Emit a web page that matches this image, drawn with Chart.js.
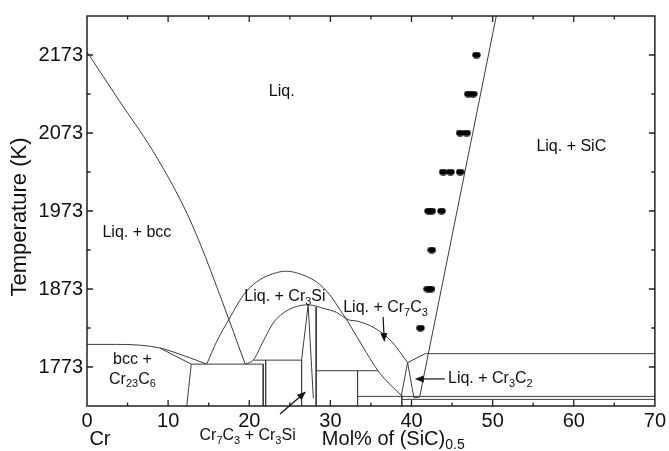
<!DOCTYPE html>
<html>
<head>
<meta charset="utf-8">
<script src="https://cdn.jsdelivr.net/npm/chart.js@4.4.0/dist/chart.umd.min.js"></script>
<style>
  html, body { margin: 0; padding: 0; background: #fff; }
  canvas { display: block; }
</style>
</head>
<body>
<canvas id="phase" width="669" height="451"></canvas>
<script>
// axes
const xRange = [0, 70];
const yRange = [1723, 2223];
const xTicks = [0, 10, 20, 30, 40, 50, 60, 70];
const yTicks = [1773, 1873, 1973, 2073, 2173];

// phase boundaries, points are [mol% (SiC)0.5, T (K)]
const bccLiquidus = [[0, 2177], [4.0, 2114], [8.0, 2052], [12.0, 1977], [13.95, 1931], [16.6, 1859], [19.5, 1776.7]];
const upperDome = [[14.76, 1776.7], [16.0, 1806], [17.6, 1836], [19.26, 1865], [20.9, 1882], [22.95, 1892.7], [24.6, 1895.8], [26.6, 1891], [28.3, 1882], [29.9, 1866], [30.9, 1851], [32.1, 1832], [34.44, 1791.4], [35.87, 1768.2], [36.9, 1755.5], [38.75, 1736.5]];
const lowerDome = [[19.5, 1776.7], [20.5, 1782], [21.72, 1806], [22.95, 1829.4], [24.18, 1842], [25.83, 1850.6], [27.26, 1852.7], [29.2, 1848], [30.75, 1843], [32.18, 1833.7], [33.4, 1831.6], [35.46, 1823], [37.52, 1806], [39.52, 1778.7]];
const bccSolvus = [[0, 1802], [3.5, 1802], [6.56, 1801], [9.0, 1797.4], [10.25, 1793.6], [12.7, 1784.7], [14.76, 1776.7]];
const bccSolvusLow = [[9.0, 1797.4], [10.25, 1790.5], [12.85, 1776.7]];
const cr3siSpike = [[26.45, 1781.8], [27.26, 1852.7], [27.9, 1733]];
const cr3c2Wedge = [[38.75, 1736.5], [39.52, 1778.7], [40.3, 1733.5], [41.0, 1734.4]];
const sicLiquidus = [[41.0, 1734.4], [50.45, 2223]];
const tieLines = [
  [[12.85, 1776.7], [12.3, 1723]],
  [[12.85, 1776.7], [21.72, 1776.7]],
  [[21.72, 1776.7], [21.72, 1723]],
  [[20.5, 1781.8], [26.45, 1781.8]],
  [[22.02, 1781.8], [22.02, 1723]],
  [[26.45, 1781.8], [26.45, 1723]],
  [[28.25, 1850], [28.25, 1723]],
  [[28.25, 1768.2], [35.87, 1768.2]],
  [[33.35, 1768.2], [33.35, 1723]],
  [[33.35, 1735.3], [70, 1735.3]],
  [[38.8, 1736.5], [38.8, 1723]],
  [[38.8, 1731.5], [70, 1731.5]],
  [[39.52, 1778.7], [41.7, 1790.1]],
  [[41.7, 1790.1], [70, 1790.1]]
];

// measured points (black dots)
const dotX = [48.0, 47.0, 47.6, 46.0, 46.8, 43.9, 44.8, 46.0, 42.1, 42.5, 43.7, 42.5, 42.0, 42.4, 41.1];
const dotT = [2173, 2123, 2123, 2073, 2073, 2023, 2023, 2023, 1973, 1973, 1973, 1923, 1873, 1873, 1823];

const font = "'Liberation Sans', Arial, sans-serif";
const lineColor = "#3c3c3c";

// ellipse marker
const dotImg = document.createElement("canvas");
dotImg.width = 9;
dotImg.height = 7;
const dctx = dotImg.getContext("2d");
dctx.fillStyle = "#000";
dctx.beginPath();
dctx.ellipse(4.5, 3.5, 4.2, 3.2, 0, 0, Math.PI * 2);
dctx.fill();

const toXY = pts => pts.map(p => ({ x: p[0], y: p[1] }));
const lineSet = (pts, smooth) => ({
  data: toXY(pts),
  showLine: true,
  borderColor: lineColor,
  borderWidth: 1,
  pointRadius: 0,
  tension: smooth ? 0.4 : 0,
  cubicInterpolationMode: smooth ? "monotone" : "default",
});

const datasets = [
  {
    data: dotX.map((x, i) => ({ x: x, y: dotT[i] })),
    pointStyle: dotImg,
    pointRadius: 4,
    showLine: false,
  },
  lineSet(bccLiquidus, true),
  lineSet(upperDome, true),
  lineSet(lowerDome, true),
  lineSet(bccSolvus, true),
  lineSet(bccSolvusLow, true),
  lineSet(cr3siSpike, false),
  lineSet(cr3c2Wedge, false),
  lineSet(sicLiquidus, false),
];
tieLines.forEach(seg => datasets.push(lineSet(seg, false)));

// text with subscripts: parts = [[text, isSub], ...]
const drawRich = (ctx, parts, x, y, size, align) => {
  const subSize = Math.round(size * 0.7);
  let total = 0;
  parts.forEach(p => {
    ctx.font = `${p[1] ? subSize : size}px ${font}`;
    total += ctx.measureText(p[0]).width;
  });
  let cx = align === "left" ? x : x - total / 2;
  ctx.textAlign = "left";
  ctx.textBaseline = "middle";
  parts.forEach(p => {
    ctx.font = `${p[1] ? subSize : size}px ${font}`;
    ctx.fillText(p[0], cx, p[1] ? y + size * 0.3 : y);
    cx += ctx.measureText(p[0]).width;
  });
};

const drawArrow = (ctx, x1, y1, x2, y2) => {
  const a = Math.atan2(y2 - y1, x2 - x1);
  ctx.beginPath();
  ctx.moveTo(x1, y1);
  ctx.lineTo(x2 - Math.cos(a) * 5, y2 - Math.sin(a) * 5);
  ctx.stroke();
  ctx.beginPath();
  ctx.moveTo(x2, y2);
  ctx.lineTo(x2 - 9 * Math.cos(a) + 3.5 * Math.sin(a), y2 - 9 * Math.sin(a) - 3.5 * Math.cos(a));
  ctx.lineTo(x2 - 9 * Math.cos(a) - 3.5 * Math.sin(a), y2 - 9 * Math.sin(a) + 3.5 * Math.cos(a));
  ctx.closePath();
  ctx.fill();
};

const decor = {
  id: "decor",
  afterDraw(chart) {
    const ctx = chart.ctx;
    const a = chart.chartArea;
    const sx = chart.scales.x;
    const sy = chart.scales.y;
    const px = v => sx.getPixelForValue(v);
    const py = v => sy.getPixelForValue(v);
    ctx.save();

    // frame
    ctx.strokeStyle = "#222";
    ctx.lineWidth = 1.5;
    ctx.strokeRect(a.left, a.top, a.right - a.left, a.bottom - a.top);

    // inward ticks, every 5 on x and 50 on y
    ctx.lineWidth = 1.3;
    ctx.beginPath();
    for (let v = xRange[0] + 5; v < xRange[1]; v += 5) {
      const len = v % 10 === 0 ? 6 : 3.5;
      ctx.moveTo(px(v), a.bottom);
      ctx.lineTo(px(v), a.bottom - len);
      ctx.moveTo(px(v), a.top);
      ctx.lineTo(px(v), a.top + len);
    }
    for (let v = yRange[0] + 50; v < yRange[1]; v += 50) {
      const len = (v - 1773) % 100 === 0 ? 6 : 3.5;
      ctx.moveTo(a.left, py(v));
      ctx.lineTo(a.left + len, py(v));
      ctx.moveTo(a.right, py(v));
      ctx.lineTo(a.right - len, py(v));
    }
    ctx.stroke();

    ctx.fillStyle = "#111";
    ctx.strokeStyle = "#111";
    ctx.lineWidth = 1.2;

    // region labels
    drawRich(ctx, [["Liq.", 0]], px(24.0), py(2125.5), 16, "center");
    drawRich(ctx, [["Liq. + SiC", 0]], px(59.7), py(2056), 16, "center");
    drawRich(ctx, [["Liq. + bcc", 0]], px(6.15), py(1945.6), 16, "center");
    drawRich(ctx, [["bcc +", 0]], px(5.6), py(1783), 16, "center");
    drawRich(ctx, [["Cr", 0], ["23", 1], ["C", 0], ["6", 1]], px(5.6), py(1757), 16, "center");
    drawRich(ctx, [["Liq. + Cr", 0], ["3", 1], ["Si", 0]], px(24.4), py(1863), 16, "center");
    drawRich(ctx, [["Liq. + Cr", 0], ["7", 1], ["C", 0], ["3", 1]], px(36.8), py(1849), 16, "center");
    drawRich(ctx, [["Liq. + Cr", 0], ["3", 1], ["C", 0], ["2", 1]], px(44.5), py(1757.7), 16, "left");
    drawArrow(ctx, px(36.5), py(1837), px(36.65), py(1805));
    drawArrow(ctx, px(44.1), py(1757.7), px(40.4), py(1757.7));

    // below the axis
    drawRich(ctx, [["Cr", 0], ["7", 1], ["C", 0], ["3", 1], [" + Cr", 0], ["3", 1], ["Si", 0]], px(19.8), a.bottom + 30, 16, "center");
    drawArrow(ctx, px(23.8), a.bottom + 8, px(27.0), py(1741.6));
    drawRich(ctx, [["Cr", 0]], px(1.6), a.bottom + 33, 20, "center");
    drawRich(ctx, [["Mol% of (SiC)", 0], ["0.5", 1]], px(28.95), a.bottom + 33, 20, "left");

    // y title
    ctx.translate(20, (a.top + a.bottom) / 2 + 6);
    ctx.rotate(-Math.PI / 2);
    drawRich(ctx, [["Temperature (K)", 0]], 0, 0, 22, "center");
    ctx.restore();
  },
};

Chart.defaults.font.family = font;
Chart.defaults.color = "#111";

new Chart(document.getElementById("phase"), {
  type: "scatter",
  data: { datasets: datasets },
  options: {
    responsive: false,
    devicePixelRatio: 1,
    animation: false,
    layout: { padding: { left: 0, top: 11, right: 13, bottom: 0 } },
    plugins: { legend: { display: false }, tooltip: { enabled: false } },
    scales: {
      x: {
        type: "linear",
        min: xRange[0],
        max: xRange[1],
        grid: { display: false, drawTicks: false },
        border: { display: false },
        afterBuildTicks: s => { s.ticks = xTicks.map(v => ({ value: v })); },
        afterFit: s => { s.height = 45; },
        ticks: { font: { size: 20 }, padding: 3, maxRotation: 0, callback: v => String(v) },
      },
      y: {
        type: "linear",
        min: yRange[0],
        max: yRange[1],
        grid: { display: false, drawTicks: false },
        border: { display: false },
        afterBuildTicks: s => { s.ticks = yTicks.map(v => ({ value: v })); },
        afterFit: s => { s.width = 87; },
        ticks: { font: { size: 20 }, padding: 4, callback: v => String(v) },
      },
    },
  },
  plugins: [decor],
});
</script>
</body>
</html>
